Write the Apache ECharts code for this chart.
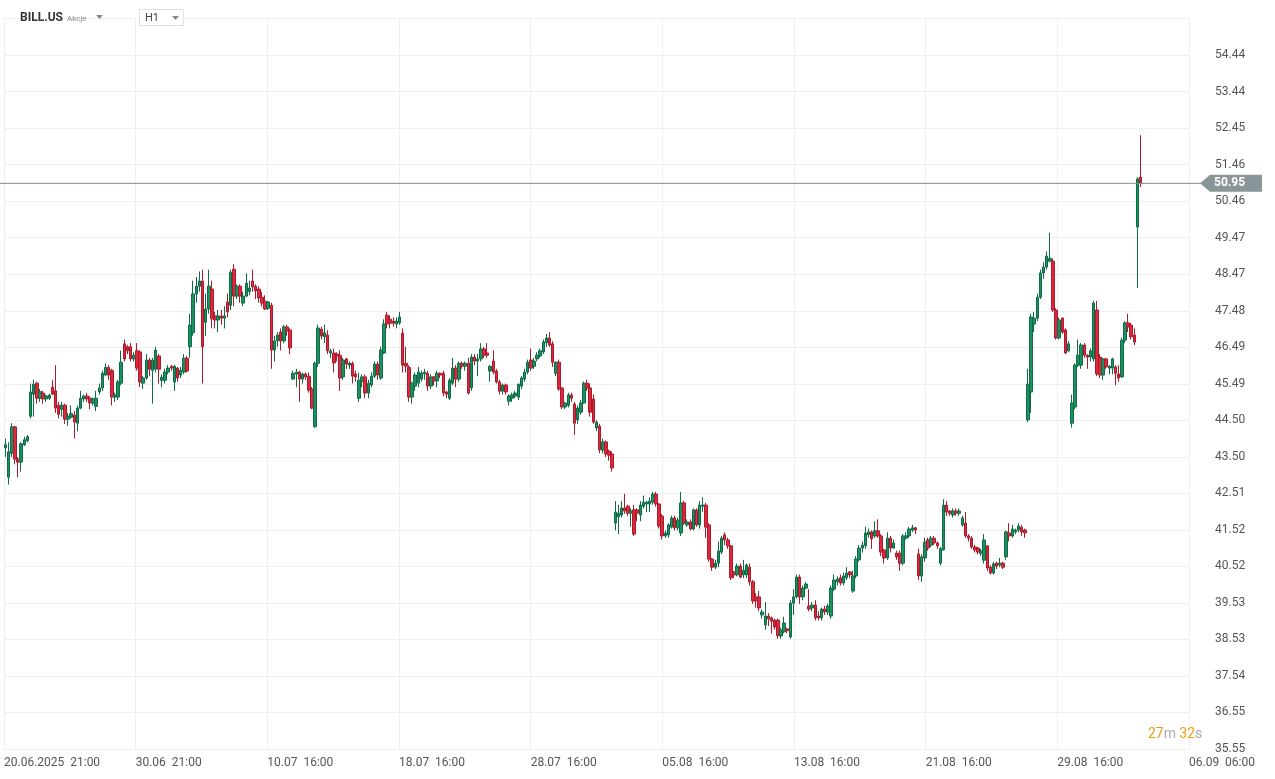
<!DOCTYPE html>
<html><head><meta charset="utf-8">
<script src="https://cdn.jsdelivr.net/npm/echarts@6/dist/echarts.min.js"></script>
<style>html,body{margin:0;padding:0;background:#fff}#c{width:1275px;height:779px}</style>
</head><body><div id="c"></div>
<script>
const xLabels = ['20.06.2025  21:00','30.06  21:00','10.07  16:00','18.07  16:00','28.07  16:00','05.08  16:00','13.08  16:00','21.08  16:00','29.08  16:00','06.09  06:00'];
const yLabels = ['35.55','36.55','37.54','38.53','39.53','40.52','41.52','42.51','43.50','44.50','45.49','46.49','47.48','48.47','49.47','50.46','51.46','52.45','53.44','54.44'];
const lastPrice = 50.95;
const opens = [43.75,42.95,43.60,44.32,43.44,43.36,43.83,43.94,44.61,45.21,45.51,45.10,45.24,45.08,45.10,45.40,45.30,44.91,44.80,44.91,44.53,44.58,44.64,44.42,44.83,45.08,45.16,45.10,44.97,44.88,45.27,45.38,45.73,45.94,45.86,45.13,45.13,45.51,46.58,46.50,46.50,46.17,46.39,46.36,45.51,45.65,46.14,45.86,45.89,46.25,45.59,45.59,45.81,45.97,45.54,45.92,45.73,45.81,46.19,46.50,46.88,47.94,48.15,48.29,47.17,47.53,48.07,47.34,47.23,47.34,47.28,47.72,47.63,48.61,47.88,48.15,47.69,47.88,48.00,48.29,48.15,48.07,47.85,47.74,47.55,47.63,46.41,46.66,46.90,46.66,47.04,46.96,45.62,45.76,45.81,45.62,45.76,45.70,45.35,44.32,46.05,46.98,46.77,46.82,46.33,46.33,46.30,46.27,45.68,46.17,46.00,46.05,45.76,45.10,45.55,45.68,45.24,45.46,45.70,46.03,45.65,46.33,47.36,47.25,47.20,47.12,47.15,46.87,46.05,45.94,45.13,45.43,45.51,45.62,45.76,45.78,45.43,45.68,45.57,45.78,45.78,45.27,45.10,45.51,45.92,45.62,46.05,45.97,46.05,45.38,46.22,46.11,46.17,46.44,46.33,45.84,46.11,45.84,45.54,45.29,45.46,45.02,45.10,45.16,45.13,45.43,45.62,45.81,46.14,45.97,46.17,46.25,46.36,46.61,46.74,46.58,45.78,46.08,45.38,44.86,44.91,45.19,44.94,44.51,44.72,44.97,45.51,45.38,45.08,44.29,44.34,43.69,43.91,43.66,43.58,
41.70,41.87,41.92,42.11,42.16,41.97,42.06,42.06,41.92,42.16,42.22,42.22,42.27,42.49,42.22,41.89,41.35,41.38,41.59,41.84,41.57,41.43,42.25,41.65,41.73,41.54,42.06,41.65,42.16,42.19,41.65,40.72,40.50,40.61,40.91,41.38,41.24,41.08,40.37,40.29,40.53,40.29,40.29,40.50,40.10,39.69,39.69,39.20,38.93,39.17,39.12,39.06,39.06,38.63,38.74,38.82,38.60,39.52,39.69,40.23,39.69,39.93,39.44,39.39,39.47,39.17,39.12,39.36,39.28,39.17,39.90,40.10,40.21,40.07,40.21,40.37,39.85,40.26,40.70,41.02,41.08,41.38,41.46,41.35,41.49,41.35,40.97,40.75,41.29,41.02,40.88,40.88,40.61,41.29,41.35,41.51,41.57,40.86,40.26,40.75,41.24,41.10,41.29,41.16,40.61,40.97,42.19,42.03,41.92,42.03,41.97,41.65,41.70,41.35,41.29,41.05,41.02,40.88,40.69,41.08,40.50,40.34,40.61,40.56,40.61,40.78,41.43,41.35,41.46,41.51,41.59,41.51,
44.51,45.27,47.12,47.28,47.85,48.51,48.67,48.83,48.83,47.50,46.74,47.28,46.96,46.39,44.42,44.86,46.00,46.00,46.55,46.27,46.22,46.17,47.50,46.22,45.73,46.17,45.92,45.92,45.95,45.76,45.68,46.68,47.15,47.09,46.82,49.76,51.12];
const closes = [43.83,43.64,44.32,43.44,43.36,43.86,43.97,44.05,45.27,45.48,45.10,45.28,45.08,45.16,45.18,45.21,44.83,44.66,44.91,44.53,44.61,44.68,44.45,44.83,45.10,45.16,45.08,44.97,45.08,45.10,45.38,45.78,45.94,45.73,45.13,45.19,45.54,46.08,46.17,46.39,46.17,46.27,45.92,45.54,45.65,46.14,45.89,46.14,46.41,45.89,45.67,45.81,45.92,45.92,45.97,45.65,45.86,46.19,45.84,47.09,47.94,48.15,48.29,46.50,47.53,48.15,47.26,47.23,47.34,47.28,47.34,47.45,48.53,47.88,48.15,47.88,47.88,48.23,48.10,48.13,48.02,47.83,47.69,47.53,47.72,46.41,46.66,46.82,46.66,47.04,46.93,46.47,45.78,45.81,45.62,45.76,45.68,45.32,44.83,46.05,47.01,46.79,46.88,46.39,46.39,46.06,46.25,45.65,46.14,46.03,46.05,45.70,45.68,45.59,45.68,45.24,45.51,45.70,46.03,45.73,46.41,47.12,47.12,47.14,47.14,47.20,47.31,46.00,45.97,45.13,45.51,45.73,45.81,45.78,45.81,45.43,45.68,45.57,45.78,45.73,45.24,45.21,45.59,45.92,45.62,46.05,45.97,46.05,45.24,46.22,46.11,46.17,46.44,46.27,46.27,45.97,45.81,45.54,45.29,45.46,45.27,45.16,45.19,45.24,45.48,45.65,45.81,46.08,45.92,46.11,46.27,46.39,46.63,46.74,46.55,46.08,46.08,45.35,44.86,44.97,45.19,45.10,44.42,44.83,44.97,45.51,45.38,44.72,44.45,44.45,43.69,43.91,43.58,43.55,43.20,
42.00,41.97,42.11,42.03,41.97,42.03,41.40,41.97,42.19,42.27,42.27,42.30,42.49,42.22,41.62,41.35,41.43,41.65,41.84,41.57,41.78,42.25,41.70,41.73,41.54,42.06,41.65,42.19,42.19,41.59,40.72,40.50,40.61,40.94,41.29,41.24,41.08,40.21,40.29,40.53,40.23,40.42,40.56,40.10,39.58,39.58,39.39,39.28,39.17,39.09,39.03,38.87,38.63,38.79,38.98,38.77,39.52,39.69,40.23,39.69,39.93,40.04,39.36,39.47,39.12,39.12,39.36,39.28,39.44,39.93,40.15,40.18,40.07,40.26,40.34,40.29,40.26,40.72,41.02,41.10,41.43,41.46,41.27,41.49,41.35,40.91,40.75,41.29,41.02,41.16,40.78,40.61,41.35,41.35,41.54,41.57,41.51,40.26,40.78,41.18,41.02,41.29,41.16,41.08,41.00,42.19,42.00,41.97,42.03,41.97,42.03,41.84,41.35,41.29,41.05,40.97,40.91,40.94,41.24,40.48,40.34,40.59,40.53,40.61,40.50,41.46,41.35,41.54,41.51,41.62,41.46,41.43,
45.48,47.31,47.28,47.85,48.51,48.67,48.97,48.91,47.50,46.74,47.23,46.90,46.33,46.58,44.97,46.00,46.27,46.55,46.27,46.22,46.39,47.69,45.76,45.73,46.17,45.95,45.97,46.17,45.78,45.65,46.68,47.15,47.04,46.77,46.63,51.07,50.95];
const highs = [44.00,43.90,44.42,44.35,43.50,43.90,44.05,44.10,45.50,45.60,45.55,45.35,45.30,45.20,45.22,45.60,46.00,45.00,45.00,44.95,44.70,44.90,44.75,44.90,45.30,45.20,45.25,45.15,45.12,45.30,45.50,45.85,46.05,46.00,45.90,45.25,45.60,46.40,46.70,46.55,46.60,46.35,46.60,46.40,45.70,46.30,46.20,46.20,46.50,46.30,45.75,45.90,46.00,46.00,46.00,45.95,45.95,46.30,46.25,47.40,48.30,48.40,48.55,48.60,47.95,48.60,48.30,47.45,47.50,47.50,47.60,47.95,48.60,48.75,48.20,48.20,48.00,48.50,48.30,48.60,48.20,48.15,48.00,47.90,47.75,47.70,46.80,46.90,47.00,47.10,47.10,47.00,45.85,45.90,45.85,45.80,45.80,45.80,45.40,46.10,47.10,47.05,47.10,46.95,46.45,46.45,46.35,46.40,46.20,46.20,46.10,46.10,45.85,45.80,45.75,45.75,45.60,45.80,46.10,46.10,46.50,47.25,47.45,47.35,47.30,47.30,47.45,47.00,46.50,46.00,45.55,45.80,45.95,45.85,45.90,45.85,45.75,45.70,45.85,45.80,45.85,45.30,45.65,46.20,46.00,46.10,46.10,46.10,46.20,46.30,46.30,46.30,46.60,46.50,46.60,46.00,46.40,45.90,45.60,45.50,45.50,45.20,45.25,45.30,45.50,45.70,45.90,46.15,46.45,46.20,46.35,46.45,46.70,46.85,46.90,46.65,46.10,46.15,45.40,45.00,45.25,45.25,45.00,44.90,45.05,45.55,45.60,45.50,45.20,44.50,44.40,44.00,43.95,43.70,43.65,
42.30,42.20,42.30,42.50,42.20,42.10,42.20,42.10,42.30,42.45,42.30,42.40,42.55,42.55,42.25,41.95,41.50,41.70,41.90,41.90,41.85,42.55,42.30,41.80,41.80,42.10,42.10,42.30,42.40,42.25,41.70,40.75,40.70,41.20,41.35,41.45,41.30,41.10,40.40,40.60,40.60,40.70,40.60,40.60,40.15,39.80,39.85,39.35,39.55,39.25,39.15,39.10,39.10,38.85,39.15,38.85,39.60,39.90,40.30,40.30,40.00,40.10,39.90,39.55,39.60,39.30,39.40,39.45,39.50,40.00,40.30,40.25,40.30,40.35,40.50,40.40,40.40,40.80,41.10,41.20,41.60,41.55,41.50,41.75,41.80,41.40,41.00,41.45,41.35,41.25,40.95,40.95,41.40,41.45,41.60,41.65,41.60,41.00,40.85,41.30,41.30,41.35,41.35,41.20,41.05,42.35,42.30,42.05,42.10,42.10,42.10,41.90,42.00,41.40,41.35,41.10,41.05,41.00,41.40,41.10,40.55,40.65,40.65,40.75,40.65,41.50,41.70,41.65,41.55,41.70,41.65,41.55,
45.90,47.40,47.45,47.95,48.60,48.80,49.10,49.60,48.90,47.55,47.30,47.30,47.00,46.65,45.20,46.05,46.70,46.60,46.60,46.30,46.45,47.75,47.75,46.30,46.20,46.20,46.00,46.20,46.00,46.00,46.75,47.20,47.40,47.15,47.00,51.12,52.26];
const lows = [43.50,42.75,43.50,43.30,42.95,43.10,43.80,43.90,44.55,44.60,44.95,45.00,44.95,45.00,45.05,45.20,44.70,44.55,44.60,44.40,44.35,44.55,44.00,44.20,44.80,45.00,45.00,44.80,44.90,44.75,45.20,45.30,45.70,45.60,44.90,45.00,45.05,45.45,46.10,46.30,46.10,46.10,45.85,45.40,45.35,45.60,45.70,44.95,45.80,45.50,45.40,45.50,45.75,45.85,45.30,45.55,45.65,45.75,45.80,46.20,46.80,47.70,48.00,45.50,46.80,47.40,47.00,47.00,46.90,47.10,47.00,47.30,47.50,47.60,47.80,47.70,47.60,47.85,47.90,48.00,47.80,47.70,47.60,47.50,47.50,45.90,46.10,46.50,46.40,46.60,46.80,46.30,45.60,45.40,45.00,45.50,45.60,45.25,44.80,44.30,45.95,46.70,46.60,46.30,46.20,45.80,46.10,45.30,45.60,45.90,45.90,45.50,45.55,45.00,45.40,45.10,45.10,45.40,45.65,45.60,45.60,46.30,47.00,47.00,47.05,47.00,47.10,45.80,45.80,45.00,44.95,45.30,45.40,45.55,45.60,45.30,45.35,45.45,45.40,45.65,45.15,45.10,45.05,45.45,45.40,45.55,45.90,45.85,45.20,45.30,46.00,45.70,46.10,46.20,46.20,45.55,45.75,45.50,45.20,45.20,45.20,44.90,45.00,45.10,45.05,45.35,45.55,45.75,45.85,45.90,46.10,46.20,46.30,46.50,46.50,45.95,45.70,45.30,44.80,44.80,44.85,45.00,44.10,44.40,44.65,44.95,45.30,44.60,44.40,44.20,43.60,43.60,43.50,43.40,43.10,
41.50,41.40,41.85,41.95,41.90,41.60,41.35,41.75,41.75,42.10,42.00,42.00,42.20,42.15,41.55,41.25,41.30,41.30,41.55,41.50,41.50,41.35,41.65,41.60,41.50,41.50,41.60,41.55,42.00,41.30,40.65,40.40,40.45,40.50,40.85,41.10,41.00,40.15,40.20,40.25,40.20,40.20,40.20,40.00,39.50,39.40,39.30,39.10,38.80,38.90,38.70,38.80,38.55,38.55,38.70,38.70,38.55,39.20,39.65,39.50,39.60,39.90,39.30,39.30,39.05,39.05,39.05,39.20,39.20,39.10,39.85,40.00,40.00,40.00,40.15,40.20,39.80,40.20,40.65,40.90,41.00,41.30,41.00,41.30,41.30,40.80,40.60,40.70,40.90,41.00,40.70,40.40,40.55,41.25,41.30,41.45,41.40,40.15,40.10,40.65,40.95,41.05,41.10,41.00,40.55,40.95,41.90,41.90,41.85,41.90,41.90,41.60,41.30,41.20,41.00,40.90,40.85,40.80,40.60,40.40,40.30,40.30,40.45,40.50,40.45,40.70,41.20,41.30,41.40,41.45,41.35,41.30,
44.45,44.70,46.90,47.20,47.80,48.35,48.60,48.80,47.45,46.70,46.70,46.85,46.30,46.35,44.30,44.80,45.95,45.90,46.20,45.90,46.10,46.10,45.70,45.65,45.60,45.90,45.75,45.75,45.45,45.55,45.65,46.60,46.90,46.70,46.55,48.10,50.85];
const SLOTS = 379;

const UP = '#1a9160', UPB = '#0f6b45', DN = '#e0283d', DNB = '#a81c2d';
const cats = [], candles = [];
for (let i = 0; i < SLOTS; i++) {
  cats.push(String(i));
  if (i < opens.length) candles.push([opens[i], closes[i], lows[i], highs[i]]);
  else candles.push('-');
}
const YMIN = 35.55, STEP = (54.44 - 35.55) / 19, YMAX = YMIN + STEP * 20;
const chart = echarts.init(document.getElementById('c'), null, {renderer: 'canvas'});
const F = 'Roboto, "Noto Sans", sans-serif';
const grid = {left: 4, right: 86, top: 18.6, bottom: 30};
chart.setOption({
  animation: false,
  backgroundColor: '#ffffff',
  grid: grid,
  xAxis: [
    {type: 'category', data: cats, boundaryGap: true, show: false, gridIndex: 0},
    {type: 'value', min: 0, max: 9, interval: 1, position: 'bottom', gridIndex: 0,
     axisLine: {show: false}, axisTick: {show: false},
     splitLine: {show: true, lineStyle: {color: '#efefef', width: 1}},
     axisLabel: {show: true, align: 'left', margin: 8, color: '#555', fontFamily: F, fontSize: 12,
       showMaxLabel: true, showMinLabel: true,
       formatter: v => xLabels[Math.round(v)] || ''}}
  ],
  yAxis: [
    {type: 'value', min: YMIN, max: YMAX, show: false, gridIndex: 0},
    {type: 'value', min: 0, max: 20, interval: 1, position: 'right', gridIndex: 0,
     axisLine: {show: false}, axisTick: {show: false},
     splitLine: {show: true, lineStyle: {color: '#efefef', width: 1}},
     axisLabel: {show: true, margin: 26, color: '#555', fontFamily: F, fontSize: 12,
       showMaxLabel: true, formatter: v => yLabels[Math.round(v)] || ''}}
  ],
  series: [{
    type: 'candlestick', xAxisIndex: 0, yAxisIndex: 0, data: candles, barWidth: 3,
    itemStyle: {color: UP, color0: DN, borderColor: UPB, borderColor0: DNB, borderWidth: 1}
  }]
});
const py = chart.convertToPixel({xAxisIndex: 0, yAxisIndex: 0}, [0, lastPrice])[1];
chart.setOption({
  graphic: [
    {type: 'line', shape: {x1: 0, y1: py, x2: 1208, y2: py}, style: {stroke: '#7f8c8d', lineWidth: 1}, z: 50},
    {type: 'polygon', shape: {points: [[1200, py], [1210, py - 8.5], [1262, py - 8.5], [1262, py + 8.5], [1210, py + 8.5]]},
     style: {fill: '#8a9599'}, z: 51},
    {type: 'text', x: 1214, y: py, style: {text: lastPrice.toFixed(2), fill: '#fff', font: 'bold 12px ' + F, verticalAlign: 'middle'}, z: 52},
    {type: 'text', x: 20, y: 18, style: {text: 'BILL.US', fill: '#333', font: 'bold 12px ' + F, verticalAlign: 'middle'}, z: 60},
    {type: 'text', x: 67, y: 19, style: {text: 'Akcje', fill: '#888', font: '8px ' + F, verticalAlign: 'middle'}, z: 60},
    {type: 'polygon', shape: {points: [[96, 15], [103, 15], [99.5, 19]]}, style: {fill: '#888'}, z: 60},
    {type: 'rect', shape: {x: 139.5, y: 9.5, width: 44, height: 16}, style: {fill: '#fff', stroke: '#e0e0e0', lineWidth: 1}, z: 60},
    {type: 'text', x: 145, y: 18, style: {text: 'H1', fill: '#444', font: '11px ' + F, verticalAlign: 'middle'}, z: 61},
    {type: 'polygon', shape: {points: [[172, 16], [179, 16], [175.5, 20]]}, style: {fill: '#888'}, z: 61},
    {type: 'text', x: 1148, y: 734, style: {
      text: '{o|27}{g|m} {o|32}{g|s}', verticalAlign: 'middle',
      rich: {o: {fill: '#f39c12', font: '14px ' + F}, g: {fill: '#aaa', font: '14px ' + F}}}, z: 60}
  ]
});
</script></body></html>
